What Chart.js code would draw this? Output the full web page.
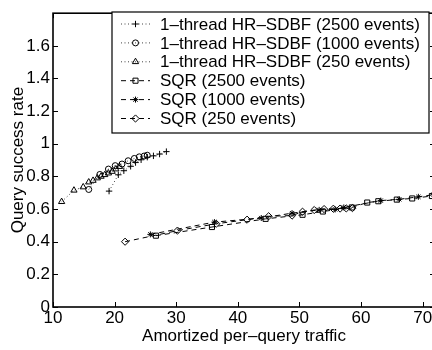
<!DOCTYPE html>
<html>
<head>
<meta charset="utf-8">
<script src="https://cdn.jsdelivr.net/npm/chart.js@4.4.0/dist/chart.umd.min.js"></script>
<style>
  html, body { margin: 0; padding: 0; background: #fff; overflow: hidden; }
  #wrap { width: 440px; height: 350px; }
</style>
</head>
<body>
<div id="wrap"><canvas id="chart" width="440" height="350"></canvas></div>
<script>
// x = amortized per-query traffic, y = query success rate
const hr2500X = [19.1, 20.6, 21.5, 22.6, 23.4, 24.3, 25.3, 26.3, 27.3, 28.4];
const hr2500Y = [0.71, 0.81, 0.835, 0.862, 0.885, 0.902, 0.918, 0.926, 0.937, 0.952];
const hr1000X = [15.8, 17.6, 19.0, 20.1, 21.2, 22.2, 23.2, 24.0, 24.8, 25.3];
const hr1000Y = [0.72, 0.812, 0.845, 0.866, 0.876, 0.896, 0.91, 0.92, 0.925, 0.93];
const hr250X = [11.4, 13.4, 14.9, 15.8, 16.5, 17.2, 17.8, 18.4, 19.0, 19.6, 20.2, 20.8];
const hr250Y = [0.645, 0.715, 0.735, 0.765, 0.775, 0.79, 0.8, 0.81, 0.82, 0.83, 0.845, 0.86];
const sqr2500X = [26.7, 35.8, 44.5, 50.5, 53.8, 58.5, 61.0, 62.8, 65.8, 68.3, 71.5];
const sqr2500Y = [0.437, 0.49, 0.54, 0.565, 0.585, 0.61, 0.64, 0.648, 0.658, 0.665, 0.68];
const sqr1000X = [25.8, 36.2, 43.8, 48.8, 53.2, 55.8, 57.2, 63.2, 66.2, 69.3, 71.8];
const sqr1000Y = [0.445, 0.52, 0.545, 0.575, 0.595, 0.598, 0.61, 0.652, 0.66, 0.675, 0.688];
const sqr250X = [21.7, 30.2, 36.5, 41.5, 45.0, 48.8, 50.5, 52.4, 54.0, 55.5, 56.6, 57.6, 58.6];
const sqr250Y = [0.40, 0.468, 0.51, 0.535, 0.556, 0.56, 0.584, 0.594, 0.6, 0.602, 0.603, 0.604, 0.606];

const seriesNames = [
  "1–thread HR–SDBF (2500 events)",
  "1–thread HR–SDBF (1000 events)",
  "1–thread HR–SDBF (250 events)",
  "SQR (2500 events)",
  "SQR (1000 events)",
  "SQR (250 events)"
];
const xTicks = [10, 20, 30, 40, 50, 60, 70];
const yTicks = [0, 0.2, 0.4, 0.6, 0.8, 1, 1.2, 1.4, 1.6];

const FONT = "'Liberation Sans', Arial, Helvetica, sans-serif";
const toPoints = (xs, ys) => xs.map((x, i) => ({x: x, y: ys[i]}));

const dotted = [1, 2.5];
const dashed = [5, 4];
const mk = (label, xs, ys, style, radius, dash, lineColor) => ({
  label: label,
  data: toPoints(xs, ys),
  showLine: true,
  borderColor: lineColor,
  borderWidth: 1,
  borderDash: dash,
  pointStyle: style,
  pointRadius: radius,
  pointBorderColor: '#000',
  pointBackgroundColor: 'rgba(0,0,0,0)',
  pointBorderWidth: 1
});

const datasets = [
  mk(seriesNames[0], hr2500X, hr2500Y, 'cross', 3.2, dotted, '#444'),
  mk(seriesNames[1], hr1000X, hr1000Y, 'circle', 3, dotted, '#444'),
  mk(seriesNames[2], hr250X, hr250Y, 'triangle', 3.6, dotted, '#444'),
  mk(seriesNames[3], sqr2500X, sqr2500Y, 'rect', 3.6, dashed, '#000'),
  mk(seriesNames[4], sqr1000X, sqr1000Y, 'star', 3, dashed, '#000'),
  mk(seriesNames[5], sqr250X, sqr250Y, 'rectRot', 3.6, dashed, '#000')
];

// matlab style box with inward ticks
const framePlugin = {
  id: 'frame',
  afterDraw(chart) {
    const {ctx, chartArea: a, scales: {x, y}} = chart;
    ctx.save();
    ctx.strokeStyle = '#000';
    ctx.lineWidth = 1;
    ctx.setLineDash([]);
    ctx.beginPath();
    xTicks.forEach(v => {
      const px = Math.round(x.getPixelForValue(v)) + 0.5;
      ctx.moveTo(px, a.bottom); ctx.lineTo(px, a.bottom - 5);
      ctx.moveTo(px, a.top); ctx.lineTo(px, a.top + 5);
    });
    yTicks.forEach(v => {
      const py = Math.round(y.getPixelForValue(v)) + 0.5;
      ctx.moveTo(a.left, py); ctx.lineTo(a.left + 5, py);
      ctx.moveTo(a.right, py); ctx.lineTo(a.right - 5, py);
    });
    ctx.stroke();
    ctx.lineWidth = 1.6;
    ctx.strokeRect(a.left, a.top, a.right - a.left, a.bottom - a.top);
    ctx.restore();
  }
};

const legendPlugin = {
  id: 'boxLegend',
  afterDraw(chart) {
    const ctx = chart.ctx;
    const box = {l: 112, t: 12, r: 429, b: 133};
    ctx.save();
    ctx.fillStyle = '#fff';
    ctx.fillRect(box.l, box.t, box.r - box.l, box.b - box.t);
    ctx.strokeStyle = '#000';
    ctx.lineWidth = 1.2;
    ctx.strokeRect(box.l, box.t, box.r - box.l, box.b - box.t);
    chart.data.datasets.forEach((ds, i) => {
      const yy = 24 + i * 18.9;
      ctx.strokeStyle = ds.borderColor;
      ctx.lineWidth = 1;
      ctx.setLineDash(ds.borderDash);
      ctx.beginPath();
      ctx.moveTo(121, yy); ctx.lineTo(150, yy);
      ctx.stroke();
      ctx.setLineDash([]);
      ctx.strokeStyle = '#000';
      ctx.fillStyle = 'rgba(0,0,0,0)';
      Chart.helpers.drawPoint(ctx, {pointStyle: ds.pointStyle, radius: ds.pointRadius, borderWidth: 1, rotation: 0}, 135.5, yy);
      ctx.fillStyle = '#000';
      ctx.font = '17px ' + FONT;
      ctx.textBaseline = 'middle';
      ctx.textAlign = 'left';
      ctx.fillText(ds.label, 160, yy + 1);
    });
    ctx.restore();
  }
};

new Chart("chart", {
  type: "scatter",
  data: { datasets: datasets },
  options: {
    responsive: false,
    animation: false,
    devicePixelRatio: 1,
    layout: { padding: { top: 7, right: 3, left: 0, bottom: 3 } },
    plugins: { legend: { display: false }, tooltip: { enabled: false } },
    scales: {
      x: {
        type: 'linear', min: 10, max: 72,
        afterBuildTicks: s => { s.ticks = xTicks.map(v => ({value: v})); },
        afterFit: s => { s.height = 40; },
        grid: { display: false, drawTicks: false },
        border: { display: false },
        ticks: { color: '#000', font: { family: FONT, size: 17 }, padding: 1, maxRotation: 0, autoSkip: false },
        title: { display: true, text: 'Amortized per–query traffic', color: '#000',
                 font: { family: FONT, size: 17 }, padding: { top: 0, bottom: 0 } }
      },
      y: {
        type: 'linear', min: 0, max: 1.8,
        afterBuildTicks: s => { s.ticks = yTicks.map(v => ({value: v})); },
        afterFit: s => { s.width = 53; },
        grid: { display: false, drawTicks: false },
        border: { display: false },
        ticks: { color: '#000', font: { family: FONT, size: 17 }, padding: 3, autoSkip: false,
                 callback: v => String(v) },
        title: { display: true, text: 'Query success rate', color: '#000',
                 font: { family: FONT, size: 17 }, padding: { top: 8, bottom: 0 } }
      }
    }
  },
  plugins: [framePlugin, legendPlugin]
});
</script>
</body>
</html>
